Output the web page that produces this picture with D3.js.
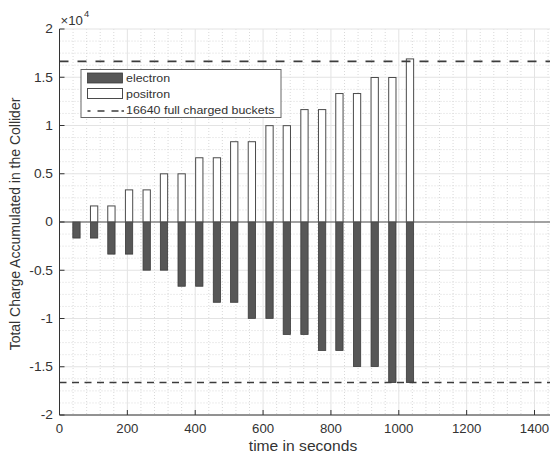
<!DOCTYPE html>
<html><head><meta charset="utf-8">
<script src="https://cdn.jsdelivr.net/npm/d3@7"></script>
<style>body{margin:0;background:#fff}svg{display:block}text{font-family:"Liberation Sans",Arial,Helvetica,sans-serif}</style>
</head><body><svg id="c" width="550" height="453"></svg>
<script>
const times = [50, 102, 153, 205, 257, 308, 360, 412, 464, 515, 567, 619, 670, 722, 774, 825, 877, 929, 981, 1033];
const electron = [-1664,-1664,-3328,-3328,-4992,-4992,-6656,-6656,-8320,-8320,-9984,-9984,-11648,-11648,-13312,-13312,-14976,-14976,-16640,-16640];
const positron = [0,1664,1664,3328,3328,4992,4992,6656,6656,8320,8320,9984,9984,11648,11648,13312,13312,14976,14976,16900];
const fullCharge = 16640;
const xTicks = [0,200,400,600,800,1000,1200,1400];
const yTicks = [-20000,-15000,-10000,-5000,0,5000,10000,15000,20000];
const yTickLabels = ["-2","-1.5","-1","-0.5","0","0.5","1","1.5","2"];
const legendLabels = ["electron","positron","16640 full charged buckets"];
const barWidth = 21.5;

(function(){
const svg = d3.select("#c");
const W = 550;
const x0 = 59.5, yTop = 29, yBot = 415;
const x = d3.scaleLinear().domain([0,1400]).range([x0, 534.5]);
const y = d3.scaleLinear().domain([-20000,20000]).range([yBot, yTop]);
const xMax = 1500;
const SX = 1.1;
const axisCol = "#333";

function txt(g, px, py, s, size, anchor){
  return g.append("text").attr("transform",`translate(${px},${py}) scale(${SX},1)`)
    .attr("font-size",size).attr("fill",axisCol).attr("text-anchor",anchor||"start")
    .attr("dominant-baseline","central").text(s);
}

const grid = svg.append("g");
for (let v = 40; v <= xMax; v += 40) {
  if (v % 200 === 0) continue;
  grid.append("line").attr("x1",x(v)).attr("x2",x(v)).attr("y1",yTop).attr("y2",yBot)
    .attr("stroke","#d9d9d9").attr("stroke-width",1).attr("stroke-dasharray","1,2");
}
for (let v = -20000; v <= 20000; v += 1250) {
  if (v % 5000 === 0) continue;
  grid.append("line").attr("x1",x0).attr("x2",W).attr("y1",y(v)).attr("y2",y(v))
    .attr("stroke","#d9d9d9").attr("stroke-width",1).attr("stroke-dasharray","1,2");
}
for (let v = 200; v <= xMax; v += 200) {
  grid.append("line").attr("x1",x(v)).attr("x2",x(v)).attr("y1",yTop).attr("y2",yBot)
    .attr("stroke","#e3e3e3").attr("stroke-width",1);
}
yTicks.forEach(v => {
  grid.append("line").attr("x1",x0).attr("x2",W).attr("y1",y(v)).attr("y2",y(v))
    .attr("stroke","#e3e3e3").attr("stroke-width",1);
});

const bars = svg.append("g");
bars.selectAll("rect.e").data(times.map((t,i)=>({t,v:electron[i]}))).join("rect")
  .attr("class","e")
  .attr("x",d=>x(d.t-barWidth/2)).attr("width",d=>x(d.t+barWidth/2)-x(d.t-barWidth/2))
  .attr("y",d=>y(0)).attr("height",d=>y(d.v)-y(0))
  .attr("fill","#575757").attr("stroke","#3a3a3a").attr("stroke-width",0.8);
bars.selectAll("rect.p").data(times.map((t,i)=>({t,v:positron[i]})).filter(d=>d.v>0)).join("rect")
  .attr("class","p")
  .attr("x",d=>x(d.t-barWidth/2)).attr("width",d=>x(d.t+barWidth/2)-x(d.t-barWidth/2))
  .attr("y",d=>y(d.v)).attr("height",d=>y(0)-y(d.v))
  .attr("fill","#fff").attr("stroke","#4a4a4a").attr("stroke-width",1);

svg.append("line").attr("x1",x0).attr("x2",W).attr("y1",y(0)).attr("y2",y(0))
  .attr("stroke","#555").attr("stroke-width",1.2);

svg.append("line").attr("x1",x0).attr("x2",W).attr("y1",y(fullCharge)).attr("y2",y(fullCharge))
  .attr("stroke","#3c3c3c").attr("stroke-width",1.8).attr("stroke-dasharray","9,9");
svg.append("line").attr("x1",x0).attr("x2",W).attr("y1",y(-fullCharge)).attr("y2",y(-fullCharge))
  .attr("stroke","#3c3c3c").attr("stroke-width",1.5).attr("stroke-dasharray","7,5.5");

const ax = svg.append("g");
ax.append("line").attr("x1",x0).attr("x2",x0).attr("y1",yTop).attr("y2",yBot).attr("stroke",axisCol).attr("stroke-width",1);
ax.append("line").attr("x1",x0).attr("x2",W).attr("y1",yBot).attr("y2",yBot).attr("stroke",axisCol).attr("stroke-width",1);
xTicks.forEach(v=>{
  ax.append("line").attr("x1",x(v)).attr("x2",x(v)).attr("y1",yBot).attr("y2",yBot-5).attr("stroke",axisCol);
  txt(ax, x(v), 429, String(v), 12, "middle");
});
yTicks.forEach((v,i)=>{
  ax.append("line").attr("x1",x0).attr("x2",x0+5).attr("y1",y(v)).attr("y2",y(v)).attr("stroke",axisCol);
  txt(ax, 53, y(v), yTickLabels[i], 12.5, "end");
});
txt(ax, 60.5, 21, "\u00d710", 12, "start");
txt(ax, 84, 14, "4", 8.5, "start");

txt(ax, 303, 446, "time in seconds", 14.2, "middle");
svg.append("text").attr("transform",`translate(15,224) rotate(-90) scale(1,${SX})`)
  .attr("font-size",14).attr("fill",axisCol).attr("text-anchor","middle")
  .attr("dominant-baseline","central").text("Total Charge Accumulated in the Collider");

const lg = svg.append("g");
lg.append("rect").attr("x",81).attr("y",69.5).attr("width",200).attr("height",48)
  .attr("fill","#fff").attr("stroke","#666").attr("stroke-width",1);
lg.append("rect").attr("x",87.5).attr("y",73).attr("width",35).attr("height",10)
  .attr("fill","#575757").attr("stroke","#3a3a3a").attr("stroke-width",0.8);
lg.append("rect").attr("x",87.5).attr("y",88.5).attr("width",35).attr("height",10)
  .attr("fill","#fff").attr("stroke","#4a4a4a").attr("stroke-width",1);
lg.append("line").attr("x1",87.5).attr("x2",124).attr("y1",111).attr("y2",111)
  .attr("stroke","#3c3c3c").attr("stroke-width",1.5).attr("stroke-dasharray","3,7,7,7,7");
[78, 94, 110.5].forEach((yy,i)=>txt(lg, 126, yy, legendLabels[i], 11.3, "start"));
})();
</script></body></html>
